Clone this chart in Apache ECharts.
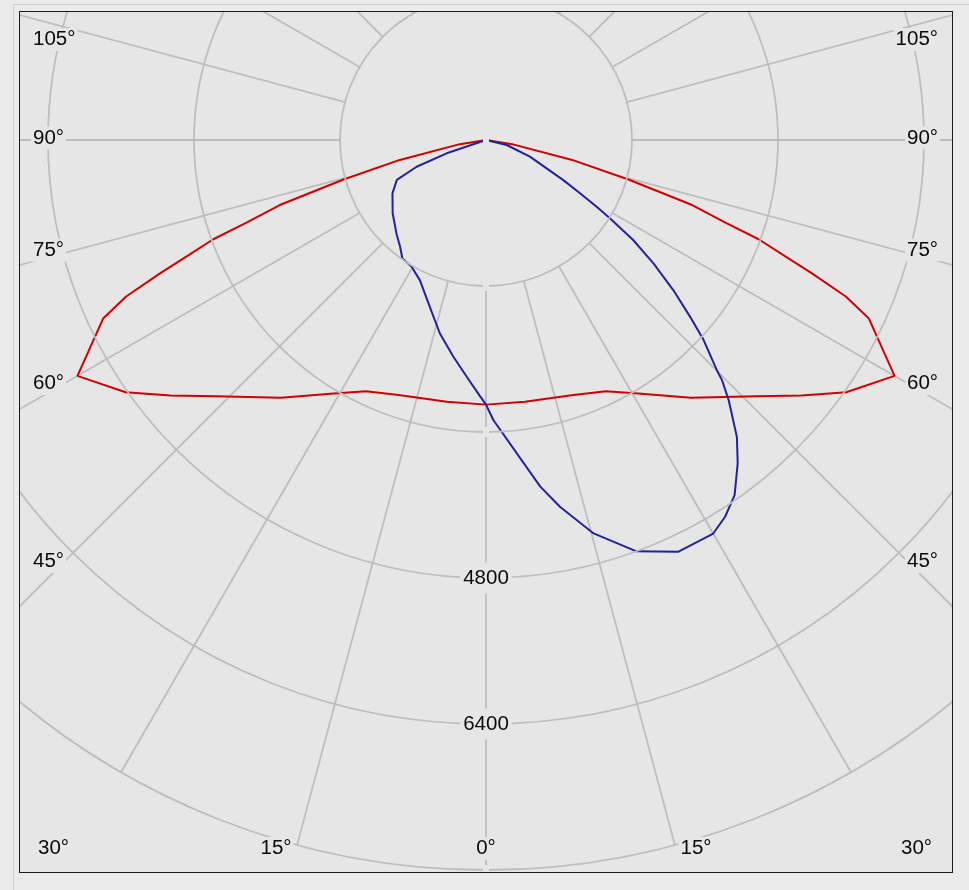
<!DOCTYPE html>
<html>
<head>
<meta charset="utf-8">
<script src="https://cdn.jsdelivr.net/npm/echarts@6/dist/echarts.min.js"></script>
<style>
html,body{margin:0;padding:0;background:#ebebeb;width:969px;height:890px;overflow:hidden;}
#panel{position:absolute;left:13px;top:4px;width:960px;height:900px;border-left:1px solid #cdcdcd;border-top:1px solid #cdcdcd;}
#frame{position:absolute;left:19px;top:11px;width:934px;height:862px;box-sizing:border-box;border:1px solid #1a1a1a;background:#e6e6e6;}
#chart{position:absolute;left:20px;top:12px;width:932px;height:860px;}
</style>
</head>
<body>
<div id="panel"></div>
<div id="frame"></div>
<div id="chart"></div>
<script>
// ---- data (candela values vs gamma angle, degrees) ----
// C0/C180 plane (red), symmetric
var redGamma = [0, 8.5, 18.5, 25.5, 31, 38.5, 46.5, 51, 55, 60, 65, 66.5, 67.75, 68.75, 70, 71, 72.5, 74.5, 77, 81, 90];
var redValue = [2900, 2900, 2950, 3050, 3240, 3610, 4080, 4450, 4820, 5170, 4630, 4300, 3860, 3520, 3180, 2770, 2370, 1620, 970, 290, 0];
// C90 side (blue, right half)
var blueRightGamma = [0, 1.5, 8.9, 11.4, 15.3, 20.1, 25, 30, 32.4, 35, 37.9, 40.2, 43, 44.5, 45.1, 47.4, 49.1, 51.3, 53.6, 55.8, 57.7, 58.9, 60.5, 62.6, 69.2, 76.4, 90];
var blueRightValue = [2900, 3070, 3845, 4100, 4470, 4800, 4980, 4980, 4890, 4750, 4490, 4260, 3900, 3690, 3570, 3240, 2960, 2630, 2280, 1950, 1610, 1420, 1180, 950, 515, 233, 0];
// C270 side (blue, left half)
var blueLeftGamma = [1.3, 4.7, 8.6, 13.4, 18.6, 25.2, 30.4, 35.2, 38.9, 43.7, 51.9, 60.3, 65.9, 68.9, 71.3, 90];
var blueLeftValue = [2810, 2600, 2400, 2180, 1930, 1700, 1610, 1590, 1500, 1420, 1300, 1180, 1070, 815, 455, 0];

var radiusMax = 8000;
var radiusStep = 1600;
var radiusLabelsShown = [4800, 6400];
var angleLabelsSide = ['105°', '90°', '75°', '60°', '45°'];
var angleLabelsBottom = ['30°', '15°', '0°', '15°', '30°'];

// ---- layout (label placement inside frame) ----
var sideLabelY = [27.5, 126, 238, 371.5, 549.5];
var bottomLabelX = [33.5, 256, 466, 676, 896.5];
var bottomLabelY = 836.5;
var leftLabelX = 11, rightLabelX = 920;
var CENTER = [466, 128];
var R_OUT = 730, R_IN = 146;

function buildSymmetric(g, v) {
  var out = [];
  for (var i = g.length - 1; i >= 1; i--) out.push([v[i], 360 - g[i]]);
  out.push([v[0], 0]);
  for (var j = 1; j < g.length; j++) out.push([v[j], g[j]]);
  return out;
}
function buildBlue() {
  var out = [];
  for (var i = blueLeftGamma.length - 1; i >= 0; i--) out.push([blueLeftValue[i], 360 - blueLeftGamma[i]]);
  for (var j = 0; j < blueRightGamma.length; j++) out.push([blueRightValue[j], blueRightGamma[j]]);
  return out;
}

var BG = '#e6e6e6';
var GRID = '#bdbdbd';
var FONT = '20.5px "Liberation Sans", Arial, sans-serif';

function txt(t, x, y, align) {
  return {type: 'text', x: x, y: y, z: 10,
    style: {text: t, font: FONT, fill: '#0a0a0a', align: align, verticalAlign: 'middle',
      backgroundColor: BG, padding: [1, 2, 1, 2]}};
}
var graphics = [];
for (var k = 0; k < angleLabelsSide.length; k++) {
  graphics.push(txt(angleLabelsSide[k], leftLabelX, sideLabelY[k], 'left'));
  graphics.push(txt(angleLabelsSide[k], rightLabelX, sideLabelY[k], 'right'));
}
for (var m = 0; m < angleLabelsBottom.length; m++) {
  graphics.push(txt(angleLabelsBottom[m], bottomLabelX[m], bottomLabelY, 'center'));
}

var chart = echarts.init(document.getElementById('chart'), null, {renderer: 'canvas'});
chart.setOption({
  animation: false,
  backgroundColor: BG,
  polar: [
    {center: CENTER, radius: [R_IN, R_OUT]},
    {center: CENTER, radius: [0, R_OUT]}
  ],
  angleAxis: [
    {polarIndex: 0, type: 'value', min: 0, max: 360, interval: 15, startAngle: 270, clockwise: false,
      axisLine: {show: false}, axisTick: {show: false}, axisLabel: {show: false},
      splitLine: {show: true, lineStyle: {color: GRID, width: 1.8}}},
    {polarIndex: 1, type: 'value', min: 0, max: 360, interval: 15, startAngle: 270, clockwise: false,
      axisLine: {show: false}, axisTick: {show: false}, axisLabel: {show: false}, splitLine: {show: false}}
  ],
  radiusAxis: [
    {polarIndex: 0, type: 'value', min: 0, max: radiusMax, interval: radiusStep,
      axisLine: {show: false}, axisTick: {show: false}, axisLabel: {show: false}, splitLine: {show: false}},
    {polarIndex: 1, type: 'value', min: 0, max: radiusMax, interval: radiusStep, z: 5,
      axisLine: {show: false}, axisTick: {show: false},
      splitLine: {show: true, lineStyle: {color: GRID, width: 1.8}},
      axisLabel: {show: true, margin: 0, align: 'center', verticalAlign: 'middle', rotate: 0,
        color: '#0a0a0a', fontSize: 20.5, fontFamily: '"Liberation Sans", Arial, sans-serif',
        backgroundColor: BG, padding: [9, 3, 1, 3],
        formatter: function (v) { return radiusLabelsShown.indexOf(v) >= 0 ? String(v) : ''; }}}
  ],
  graphic: graphics,
  series: [
    {type: 'line', coordinateSystem: 'polar', polarIndex: 1, data: buildSymmetric(redGamma, redValue),
      showSymbol: false, symbol: 'none', z: 3, lineStyle: {color: '#d40000', width: 2}},
    {type: 'line', coordinateSystem: 'polar', polarIndex: 1, data: buildBlue(),
      showSymbol: false, symbol: 'none', z: 4, lineStyle: {color: '#22229a', width: 2}}
  ]
});
</script>
</body>
</html>
